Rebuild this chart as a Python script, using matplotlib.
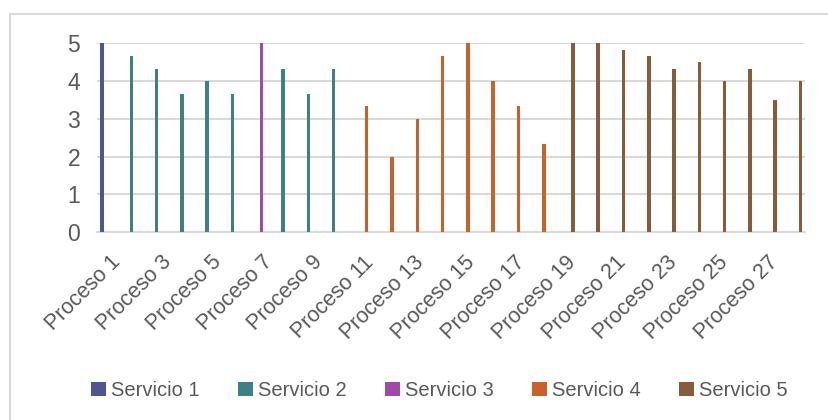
import numpy as np
import matplotlib
matplotlib.use("Agg")
import matplotlib.pyplot as plt
from matplotlib.patches import Rectangle, Patch

plt.rcParams['font.family'] = ['Liberation Sans', 'DejaVu Sans']

procesos = ["Proceso %d" % i for i in range(1, 29)]
servicio = [1, 2, 2, 2, 2, 2, 3, 2, 2, 2,
            4, 4, 4, 4, 4, 4, 4, 4,
            5, 5, 5, 5, 5, 5, 5, 5, 5, 5]
valores = [5, 4.67, 4.33, 3.67, 4, 3.67, 5, 4.33, 3.67, 4.33,
           3.33, 2, 3, 4.67, 5, 4, 3.33, 2.33,
           5, 5, 4.83, 4.67, 4.33, 4.5, 4, 4.33, 3.5, 4]
nombres = ["Servicio 1", "Servicio 2", "Servicio 3", "Servicio 4", "Servicio 5"]
colores = ["#525492", "#3e8083", "#9f4aa6", "#c6622c", "#885b3b"]

texto = "#595959"
grid = "#d9d9d9"

fig = plt.figure(figsize=(8.29, 4.2), dpi=100)
ax = fig.add_axes([0.1167, 0.447, 0.971 - 0.1167, 0.897 - 0.447])

x = np.arange(len(procesos))
paso = 0.153
for s in range(1, 6):
    idx = [i for i, v in enumerate(servicio) if v == s]
    ax.bar(x[idx] + (s - 3) * paso, [valores[i] for i in idx], width=0.14,
           color=colores[s - 1], zorder=3)

ax.set_xlim(-0.52, len(procesos) - 0.52)
ax.set_ylim(0, 5)
ax.set_yticks(range(0, 6))
ax.yaxis.grid(True, color=grid, linewidth=1.5, zorder=0)
ax.set_axisbelow(True)
for sp in ["top", "right", "left"]:
    ax.spines[sp].set_visible(False)
ax.spines["bottom"].set_color(grid)
ax.spines["bottom"].set_linewidth(1.5)

ax.set_xticks(x[::2])
ax.set_xticklabels(procesos[::2], rotation=45, ha="right", va="top",
                   rotation_mode="anchor", fontsize=15.5, color=texto)
ax.tick_params(axis="both", length=0)
ax.tick_params(axis="x", pad=14)
ax.tick_params(axis="y", pad=12, labelsize=16.5, labelcolor=texto)

handles = [Patch(facecolor=c, label=n) for c, n in zip(colores, nombres)]
fig.legend(handles=handles, loc="center", bbox_to_anchor=(0.53, 0.07), ncol=5,
           frameon=False, fontsize=14.5, labelcolor=texto, handlelength=0.75,
           handleheight=0.75, handletextpad=0.25, columnspacing=1.9)

fig.add_artist(Rectangle((10 / 829, -0.1), 1.2, 1 - 14 / 420 + 0.1,
                         transform=fig.transFigure, fill=False,
                         edgecolor="#d9d9d9", linewidth=1.5))

fig.savefig("out.png", dpi=100)
